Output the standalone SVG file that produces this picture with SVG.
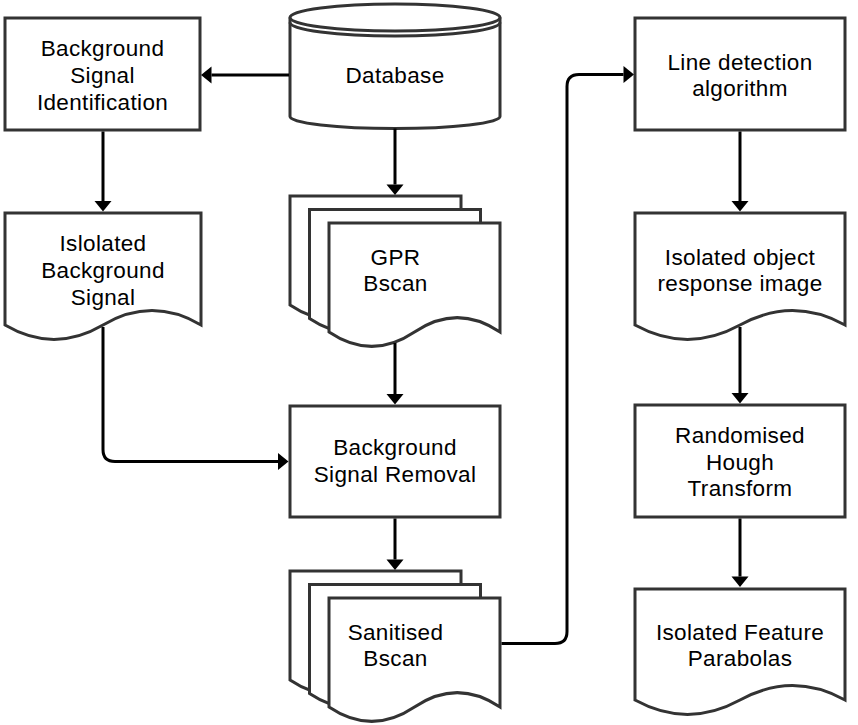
<svg xmlns="http://www.w3.org/2000/svg" width="858" height="725" viewBox="0 0 858 725">
<style>
.n{fill:#fff;stroke:#333;stroke-width:3}
.ln{fill:none;stroke:#333;stroke-width:3}
.e{fill:none;stroke:#000;stroke-width:3}
.t{font-family:"Liberation Sans",Arial,sans-serif;font-size:22.5px;letter-spacing:0.35px;fill:#000;text-anchor:middle}
</style>
<defs>
<marker id="arr" markerUnits="userSpaceOnUse" markerWidth="14" markerHeight="20" viewBox="0 -10 14 20" refX="0" refY="0" orient="auto" overflow="visible">
<path d="M0,-8.5 L10.5,0 L0,8.5 Z" fill="#000"/>
</marker>
</defs>
<rect width="858" height="725" fill="#fff"/>

<g id="bg-identification">
<rect class="n" x="5" y="18" width="195" height="112"/>
<text class="t" x="102.5" y="55.5">Background</text>
<text class="t" x="102.5" y="82.5">Signal</text>
<text class="t" x="102.5" y="109.5">Identification</text>
</g>

<g id="database">
<path class="n" d="M290,17.5 A105,13.5 0 0 1 500,17.5 L500,116.5 A105,12 0 0 1 290,116.5 Z"/>
<path class="ln" d="M290,17.5 A105,13.5 0 0 0 500,17.5"/>
<path class="ln" d="M290,22.5 A105,13.5 0 0 0 500,22.5"/>
<text class="t" x="395" y="82.5">Database</text>
</g>

<g id="isolated-bg-signal">
<path class="n" d="M5,213 H201 V325 Q152,296.2 103,325 Q54,353.8 5,325 Z"/>
<text class="t" x="103" y="251">Islolated</text>
<text class="t" x="103" y="278">Background</text>
<text class="t" x="103" y="304.5">Signal</text>
</g>

<g id="gpr-bscan">
<path class="n" d="M290,196 H461 V305 Q418.25,276.2 375.5,305 Q332.75,333.8 290,305 Z"/>
<path class="n" d="M309.5,209.5 H480.5 V318.5 Q437.75,289.7 395,318.5 Q352.25,347.3 309.5,318.5 Z"/>
<path class="n" d="M329,223 H500 V332 Q457.25,303.2 414.5,332 Q371.75,360.8 329,332 Z"/>
<text class="t" x="395.5" y="264.5">GPR</text>
<text class="t" x="395.5" y="291">Bscan</text>
</g>

<g id="bg-removal">
<rect class="n" x="290" y="406" width="210" height="111"/>
<text class="t" x="395" y="454.5">Background</text>
<text class="t" x="395" y="481.5">Signal Removal</text>
</g>

<g id="sanitised-bscan">
<path class="n" d="M290,571 H461 V680 Q418.25,651.2 375.5,680 Q332.75,708.8 290,680 Z"/>
<path class="n" d="M309.5,584.5 H480.5 V693.5 Q437.75,664.7 395,693.5 Q352.25,722.3 309.5,693.5 Z"/>
<path class="n" d="M329,598 H500 V707 Q457.25,678.2 414.5,707 Q371.75,735.8 329,707 Z"/>
<text class="t" x="395.5" y="639.5">Sanitised</text>
<text class="t" x="395.5" y="666">Bscan</text>
</g>

<g id="line-detection">
<rect class="n" x="635" y="18" width="210" height="112"/>
<text class="t" x="740" y="69.5">Line detection</text>
<text class="t" x="740" y="96">algorithm</text>
</g>

<g id="isolated-object">
<path class="n" d="M635,213 H845 V325 Q792.5,296.2 740,325 Q687.5,353.8 635,325 Z"/>
<text class="t" x="740" y="264.5">Isolated object</text>
<text class="t" x="740" y="291">response image</text>
</g>

<g id="hough">
<rect class="n" x="635" y="405" width="210" height="112"/>
<text class="t" x="740" y="443">Randomised</text>
<text class="t" x="740" y="469.5">Hough</text>
<text class="t" x="740" y="496">Transform</text>
</g>

<g id="parabolas">
<path class="n" d="M635,589 H845 V700 Q792.5,671.2 740,700 Q687.5,728.8 635,700 Z"/>
<text class="t" x="740" y="639.5">Isolated Feature</text>
<text class="t" x="740" y="666">Parabolas</text>
</g>

<g id="connectors">
<path class="e" marker-end="url(#arr)" d="M289,75 H211.5"/>
<path class="e" marker-end="url(#arr)" d="M395,128.5 V184.5"/>
<path class="e" marker-end="url(#arr)" d="M103,131.5 V201"/>
<path class="e" marker-end="url(#arr)" d="M103,327 V449.5 Q103,461.5 115,461.5 H278"/>
<path class="e" marker-end="url(#arr)" d="M395,343 V394"/>
<path class="e" marker-end="url(#arr)" d="M395,518.5 V559.5"/>
<path class="e" marker-end="url(#arr)" d="M501.5,643.5 H555 Q567,643.5 567,631.5 V86.5 Q567,74.5 579,74.5 H623.5"/>
<path class="e" marker-end="url(#arr)" d="M740,131.5 V201"/>
<path class="e" marker-end="url(#arr)" d="M740,327 V393"/>
<path class="e" marker-end="url(#arr)" d="M740,518.5 V576.5"/>
</g>
</svg>
